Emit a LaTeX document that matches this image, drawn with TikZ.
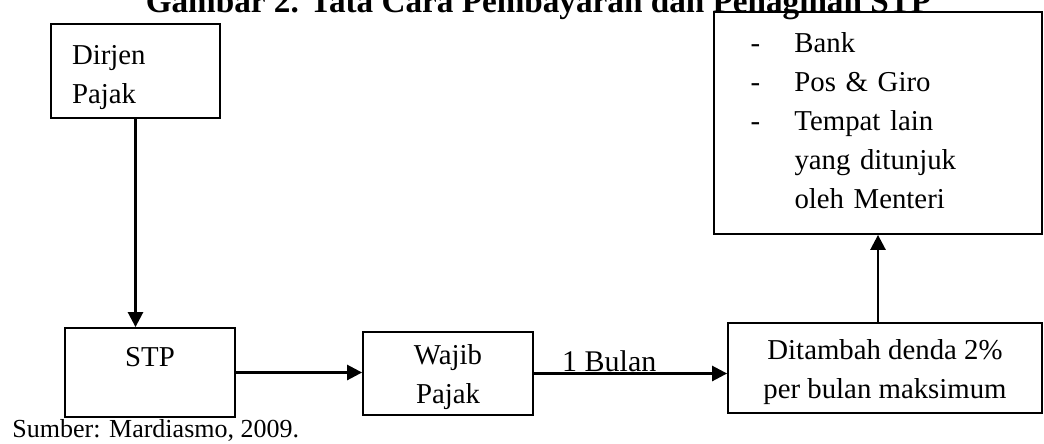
\documentclass[tikz,border=0pt]{standalone}
\usepackage{fontspec}
\setmainfont{Liberation Serif}
\usepackage{tikz}
\usetikzlibrary{arrows.meta, positioning}
\colorlet{colorBox}{black}
\colorlet{colorFlow}{black}
\newcommand{\boxstrut}[1]{\rule{0pt}{#1}}
\tikzset{box/.style={draw=colorBox, line width=0.9pt, inner sep=0pt, font=\fontsize{14.4}{19.5}\selectfont}}
\tikzset{flow/.style={colorFlow, line width=1.3pt, -{Triangle[length=7.5pt, width=7.5pt]}}}

\begin{document}
\begin{tikzpicture}[x=0.5pt, y=-0.5pt]
\useasboundingbox (0,0) rectangle (1044,444);
\node[anchor=base, font=\fontsize{16.6}{19}\selectfont\bfseries] (title) at (538.5,13) {Gambar 2. Tata Cara Pembayaran dan Penagihan STP};
\node[box, text width=63.5pt, inner xsep=10.5pt, minimum height=47pt, align=left] (dirjen) at (135.5,71) {\boxstrut{16pt}Dirjen\\Pajak};
\node[box, minimum width=85pt, minimum height=44.5pt, text height=9.5pt, text depth=16pt] (stp) at (150,372.5) {STP};
\node[box, minimum width=85pt, minimum height=41.5pt, align=center] (wajib) at (448,373.5) {\boxstrut{13.6pt}Wajib\\Pajak};
\node[box, minimum width=157pt, minimum height=45pt, align=center] (denda) at (885,368) {\boxstrut{13.6pt}Ditambah denda 2\%\\per bulan maksimum};
\node[box, text width=127.5pt, inner xsep=18.25pt, minimum height=111pt, align=left] (tempat) at (878,123) {\begin{tabular}{@{}p{22pt}@{}l@{}}
- & Bank\\
- & Pos \& Giro\\
- & Tempat lain\\
 & yang ditunjuk\\
 & oleh Menteri
\end{tabular}};
\node[anchor=base west, inner sep=0pt, font=\fontsize{13}{16}\selectfont] (sumber) at (12,437) {Sumber: Mardiasmo, 2009.};
\draw[flow] (dirjen.south) -- (dirjen.south |- stp.north);
\draw[flow] (stp.east) -- (stp.east -| wajib.west);
\draw[flow] (wajib.east) -- (wajib.east -| denda.west) node[pos=0.39, anchor=base, inner sep=0pt, yshift=1pt, font=\fontsize{15}{18}\selectfont] (bulan) {1 Bulan};
\draw[flow] (tempat.south |- denda.north) -- (tempat.south);
\end{tikzpicture}
\end{document}
